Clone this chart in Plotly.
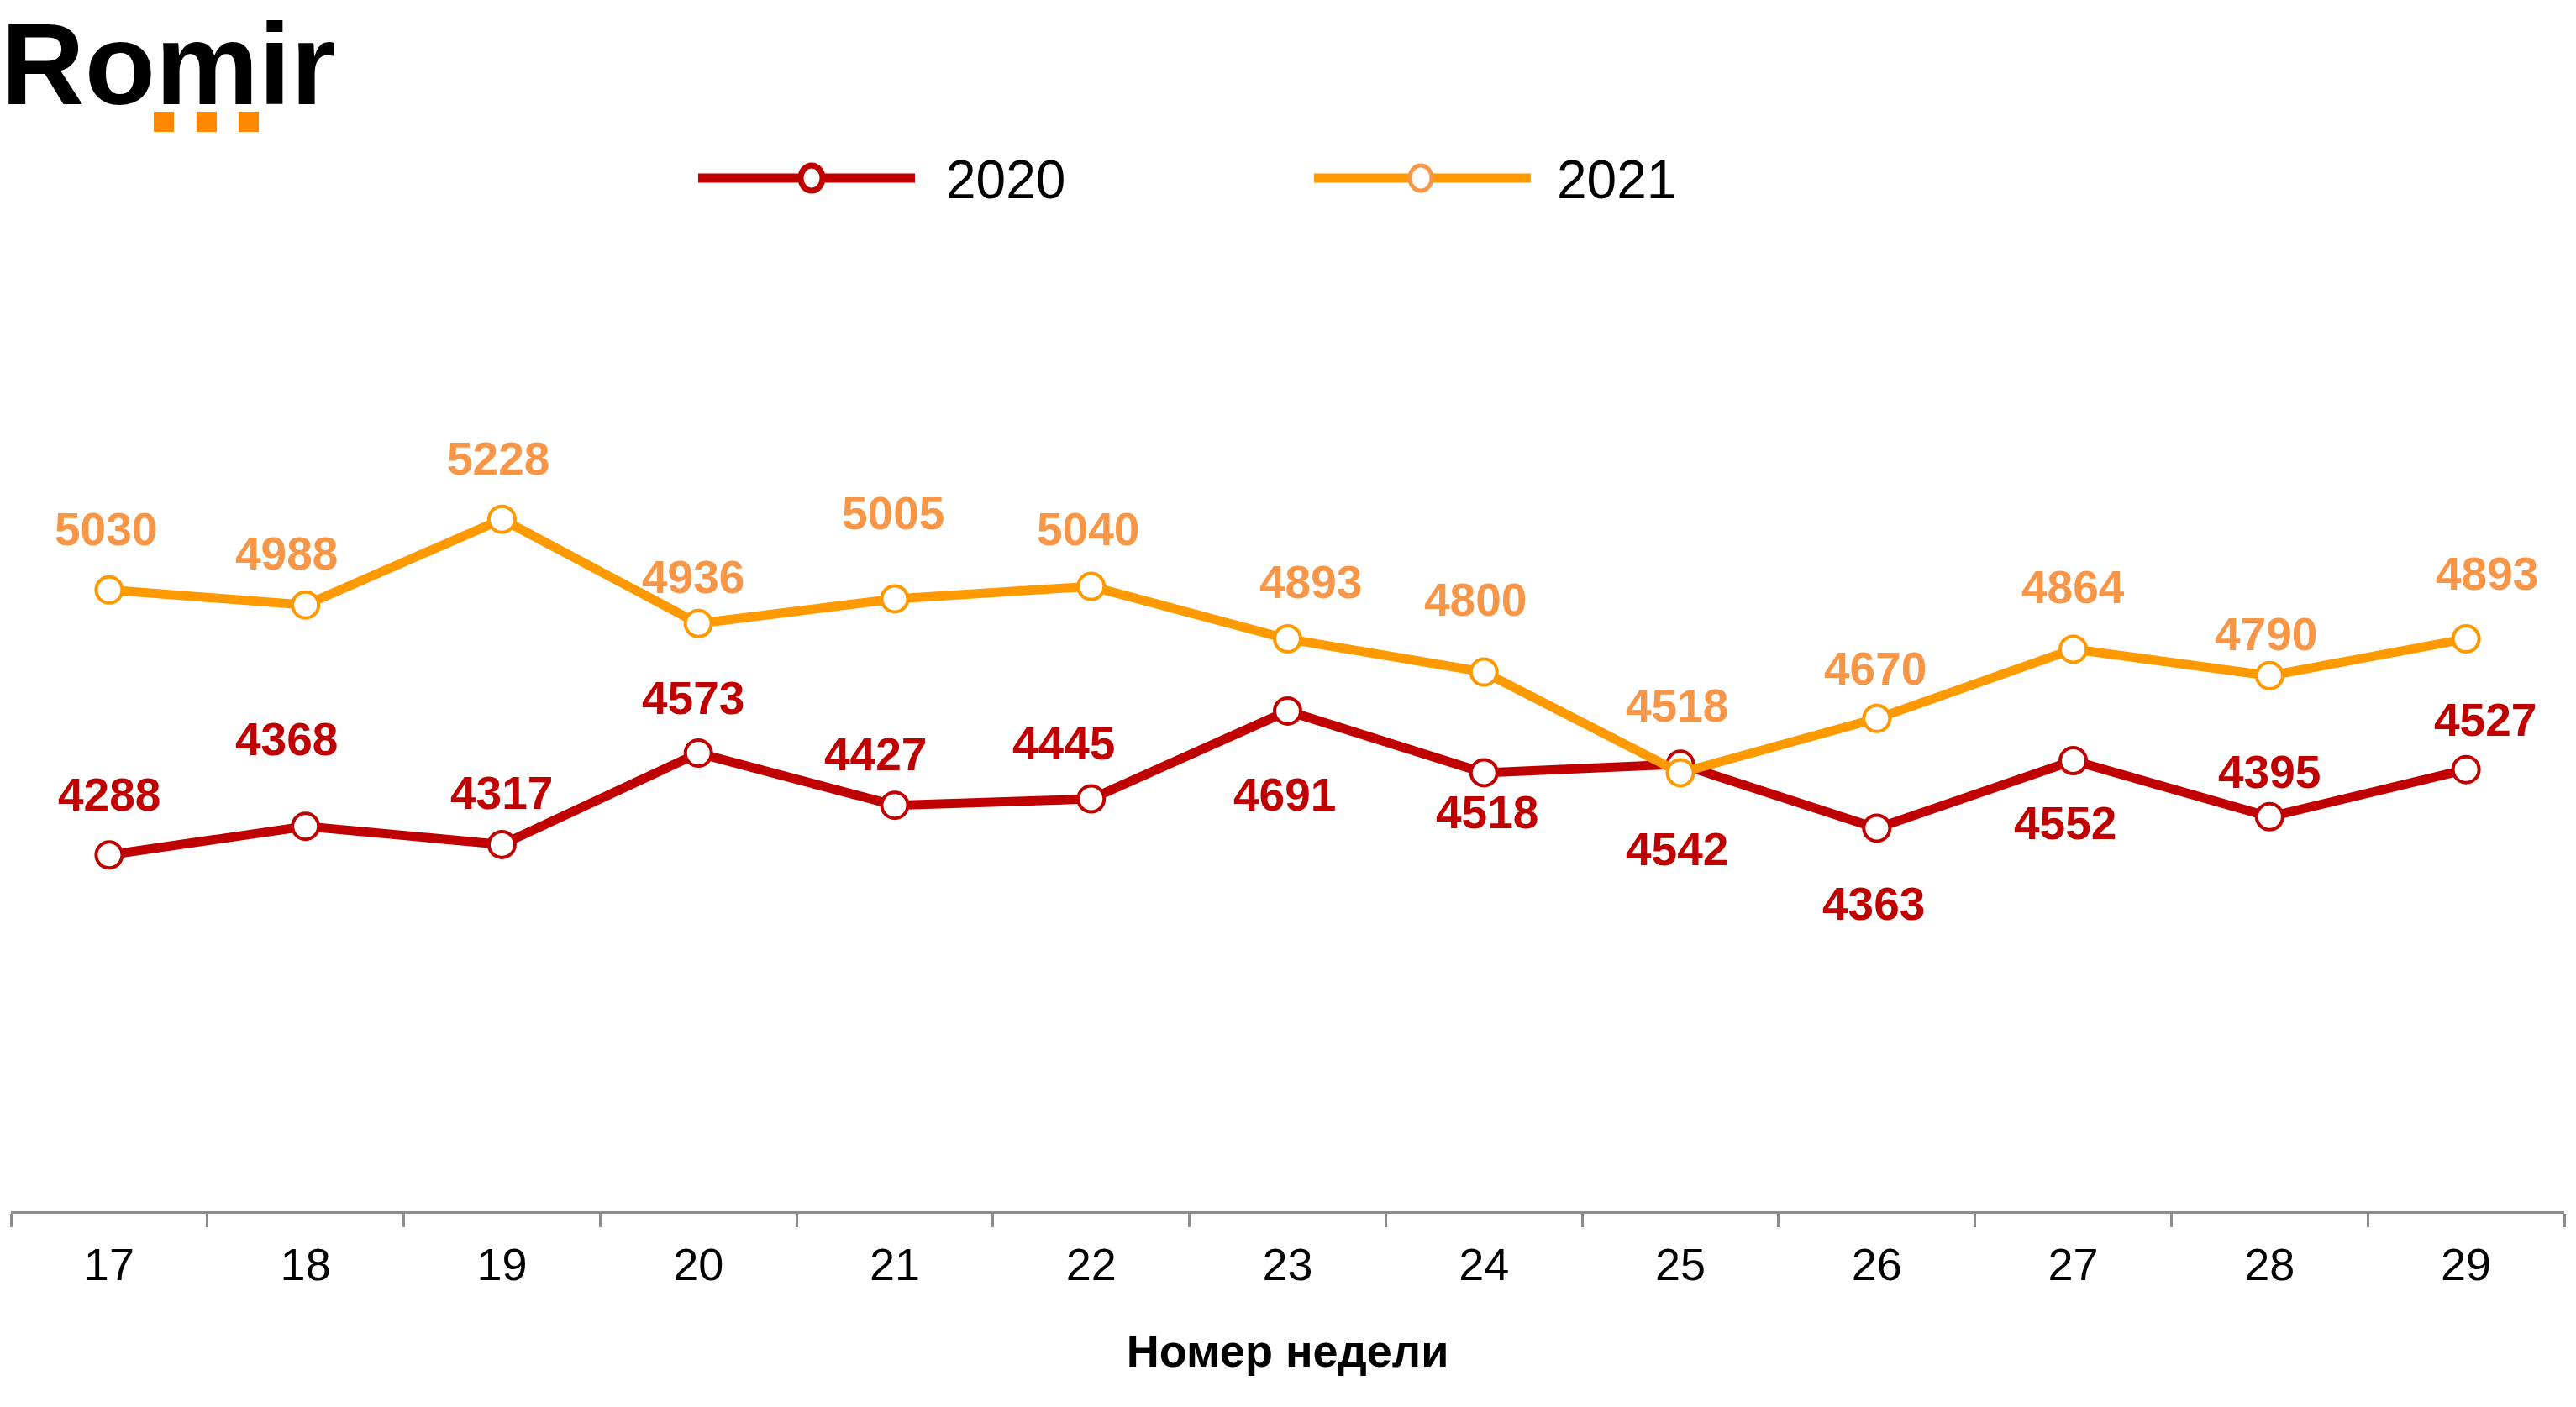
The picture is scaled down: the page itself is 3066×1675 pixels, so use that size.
import plotly.graph_objects as go

# ---- data ----
weeks = ["17", "18", "19", "20", "21", "22", "23", "24", "25", "26", "27", "28", "29"]
values_2020 = [4288, 4368, 4317, 4573, 4427, 4445, 4691, 4518, 4542, 4363, 4552, 4395, 4527]
values_2021 = [5030, 4988, 5228, 4936, 5005, 5040, 4893, 4800, 4518, 4670, 4864, 4790, 4893]
series_names = ["2020", "2021"]
x_title = "Номер недели"
logo_text = "Romir"

# ---- styling ----
W, H = 3066, 1675
ML, MR, MT, MB = 13, 14, 290, 233
PW, PH = W - ML - MR, H - MT - MB
FONT = "Liberation Sans, Arial, sans-serif"
RED = "#C00000"
ORANGE_LINE = "#FF9900"
ORANGE_TXT = "#F79646"

# label offsets in pixels (dx, dy up)
off_2020 = [(0, 72), (-23, 104), (0, 61), (-6, 66), (-23, 61), (-33, 66), (-4, -100),
            (4, -47), (-4, -101), (-4, -90), (-10, -74), (0, 53), (23, 59)]
off_2021 = [(-4, 72), (-23, 61), (-4, 72), (-6, 55), (-2, 102), (-4, 68), (27, 68),
            (-10, 86), (-4, 80), (-2, 59), (0, 74), (-4, 49), (25, 78)]


def px(x):
    return (x - ML) / PW


def py(y):
    return (H - MB - y) / PH


fig = go.Figure()
for name, vals, lc, mc in [(series_names[0], values_2020, RED, RED),
                           (series_names[1], values_2021, ORANGE_LINE, ORANGE_LINE)]:
    fig.add_trace(go.Scatter(
        x=weeks, y=vals, name=name, mode="lines+markers",
        line=dict(color=lc, width=11),
        marker=dict(symbol="circle", size=31, color="white", line=dict(color=mc, width=4)),
        showlegend=False, hoverinfo="x+y",
    ))

annotations = []
for vals, offs, col in [(values_2020, off_2020, RED), (values_2021, off_2021, ORANGE_TXT)]:
    for i, (v, (dx, dy)) in enumerate(zip(vals, offs)):
        annotations.append(dict(
            x=i, y=v, xref="x", yref="y", text="<b>" + str(v) + "</b>", showarrow=False,
            xshift=dx, yshift=dy, xanchor="center", yanchor="middle",
            font=dict(family=FONT, size=55, color=col),
        ))

# logo
annotations.append(dict(
    x=px(0), y=py(76), xref="paper", yref="paper", text="<b>" + logo_text + "</b>",
    showarrow=False, xanchor="left", yanchor="middle", height=130, valign="middle",
    borderpad=0,
    font=dict(family=FONT, size=138, color="black"),
))

# legend texts
for name, xl in [(series_names[0], 1124), (series_names[1], 1851)]:
    annotations.append(dict(
        x=px(xl), y=py(214), xref="paper", yref="paper", text=name, showarrow=False,
        xanchor="left", yanchor="middle", font=dict(family=FONT, size=64, color="black"),
    ))

shapes = []
# logo squares
for x0 in [183, 234, 284]:
    shapes.append(dict(type="rect", xref="paper", yref="paper",
                       x0=px(x0), x1=px(x0 + 24), y0=py(157), y1=py(133),
                       fillcolor="#FF8800", line=dict(width=0), layer="above"))
# legend lines and markers
for x0, x1, xm, lc, mc, mw in [(831, 1089, 966, RED, RED, 7),
                               (1564, 1822, 1691, ORANGE_LINE, ORANGE_TXT, 5)]:
    shapes.append(dict(type="line", xref="paper", yref="paper",
                       x0=px(x0), x1=px(x1), y0=py(212), y1=py(212),
                       line=dict(color=lc, width=11), layer="above"))
    shapes.append(dict(type="circle", xref="paper", yref="paper",
                       xsizemode="pixel", ysizemode="pixel",
                       xanchor=px(xm), yanchor=py(212),
                       x0=-13, x1=13, y0=-15, y1=15,
                       fillcolor="white", line=dict(color=mc, width=mw), layer="above"))

fig.update_layout(
    width=W, height=H,
    margin=dict(l=ML, r=MR, t=MT, b=MB, pad=0),
    paper_bgcolor="white", plot_bgcolor="white",
    font=dict(family=FONT, color="black"),
    annotations=annotations, shapes=shapes,
    showlegend=False,
    xaxis=dict(
        type="category", range=[-0.5, 12.5], tickson="boundaries",
        showline=True, linecolor="#8C8C8C", linewidth=3,
        ticks="outside", ticklen=16, tickwidth=3, tickcolor="#8C8C8C",
        ticklabelstandoff=14,
        showgrid=False, zeroline=False,
        tickfont=dict(family=FONT, size=54, color="black"),
        title=dict(text="<b>" + x_title + "</b>", standoff=56,
                   font=dict(family=FONT, size=54, color="black")),
        fixedrange=True,
    ),
    yaxis=dict(range=[3290, 6000], visible=False, showgrid=False, zeroline=False, fixedrange=True),
)

fig.write_html("out.html", config={"displayModeBar": False},
               post_script="document.body.style.margin='0';document.body.style.overflow='hidden';")
